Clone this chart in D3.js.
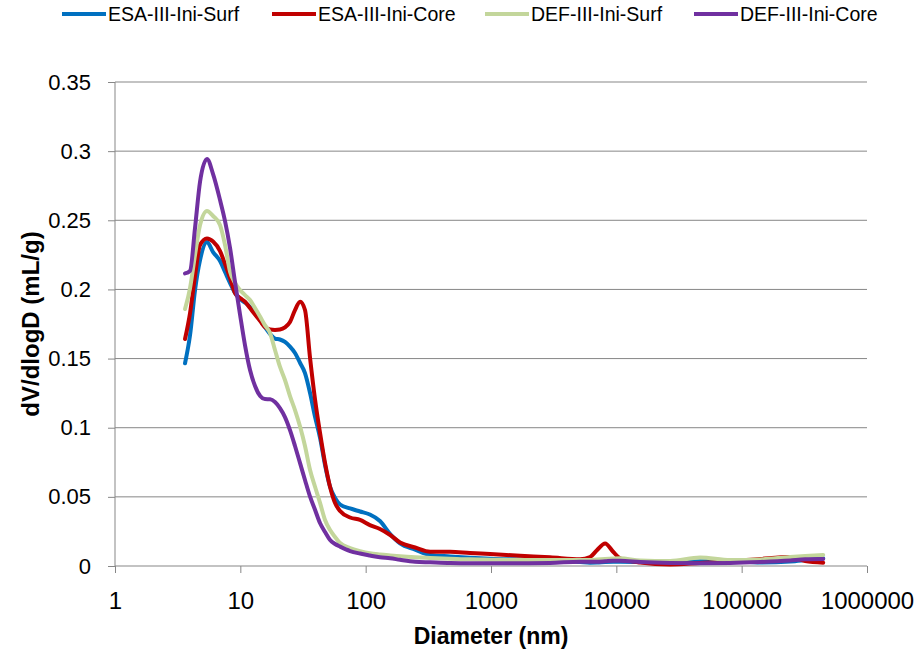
<!DOCTYPE html>
<html lang="en">
<head>
    <meta charset="UTF-8">
    <title>Pore size distribution</title>
    <style>
        body {
            margin: 0;
            padding: 0;
            background-color: #ffffff;
            font-family: 'Liberation Sans', Arial, sans-serif;
        }
        .grid line {
            stroke: #878787;
            stroke-width: 1px;
        }
        .axis path, .axis line {
            stroke: #878787;
            stroke-width: 1px;
        }
        .axis text {
            fill: #000000;
            font-family: 'Liberation Sans', Arial, sans-serif;
        }
        .series {
            fill: none;
            stroke-width: 4px;
            stroke-linejoin: round;
            stroke-linecap: round;
        }
        .legend text {
            font-size: 19.5px;
            fill: #000000;
        }
        .title {
            font-weight: bold;
            fill: #000000;
        }
    </style>
</head>
<body>
    <div id="chart"></div>

    <script src="https://d3js.org/d3.v7.min.js"></script>
    <script>
        const width = 918;
        const height = 655;

        // pore diameter (nm), shared by all four samples
        const diameters = [3.62, 3.97, 4.35, 4.77, 5.42, 6.06, 6.89, 7.55, 8.28, 9.07,
            9.95, 10.9, 11.95, 13.1, 14.4, 15.7, 17.3, 18.9, 20.7, 22.7,
            24.9, 27.3, 30.0, 32.8, 36.0, 39.5, 43.3, 47.4, 52.0, 57.0,
            62.5, 75.1, 90.2, 108, 130, 157, 188, 248, 327, 472,
            681, 984, 1710, 2960, 5140, 6180, 7030, 8140, 9430, 10700,
            15500, 26900, 46600, 81000, 140500, 243800, 321300, 447200];

        // dV/dlogD (mL/g)
        const esaSurf = [0.1466, 0.1670, 0.1995, 0.2212, 0.2343, 0.2270, 0.2205, 0.2126, 0.2046, 0.1974,
            0.1930, 0.1905, 0.1873, 0.1826, 0.1779, 0.1728, 0.1677, 0.1645, 0.1638, 0.1620,
            0.1586, 0.1540, 0.1468, 0.1395, 0.1251, 0.1077, 0.0925, 0.0730, 0.0573, 0.0492,
            0.0445, 0.0416, 0.0394, 0.0372, 0.0325, 0.0231, 0.0164, 0.0119, 0.0080, 0.0069,
            0.0060, 0.0053, 0.0047, 0.0042, 0.0029, 0.0024, 0.0025, 0.0029, 0.0031, 0.0031,
            0.0029, 0.0024, 0.0035, 0.0036, 0.0025, 0.0033, 0.0043, 0.0056];

        const esaCore = [0.1641, 0.1829, 0.2097, 0.2321, 0.2368, 0.2346, 0.2277, 0.2183, 0.2082, 0.1974,
            0.1938, 0.1911, 0.1865, 0.1818, 0.1771, 0.1728, 0.1710, 0.1707, 0.1710, 0.1725,
            0.1764, 0.1851, 0.1911, 0.1851, 0.1504, 0.1200, 0.0959, 0.0745, 0.0571, 0.0455,
            0.0398, 0.0351, 0.0333, 0.0296, 0.0268, 0.0224, 0.0170, 0.0134, 0.0103, 0.0103,
            0.0094, 0.0087, 0.0074, 0.0063, 0.0048, 0.0065, 0.0116, 0.0163, 0.0103, 0.0056,
            0.0025, 0.0011, 0.0022, 0.0033, 0.0051, 0.0065, 0.0036, 0.0024];

        const defSurf = [0.1858, 0.2010, 0.2249, 0.2465, 0.2567, 0.2531, 0.2465, 0.2321, 0.2128, 0.2046,
            0.1995, 0.1959, 0.1923, 0.1865, 0.1802, 0.1742, 0.1682, 0.1562, 0.1441, 0.1345,
            0.1229, 0.1128, 0.1007, 0.0868, 0.0694, 0.0571, 0.0455, 0.0333, 0.0260, 0.0210,
            0.0166, 0.0130, 0.0108, 0.0092, 0.0083, 0.0076, 0.0070, 0.0063, 0.0058, 0.0053,
            0.0048, 0.0046, 0.0043, 0.0043, 0.0043, 0.0043, 0.0047, 0.0051, 0.0054, 0.0056,
            0.0040, 0.0036, 0.0061, 0.0043, 0.0047, 0.0065, 0.0072, 0.0080];

        const defCore = [0.2116, 0.2135, 0.2444, 0.2779, 0.2943, 0.2834, 0.2646, 0.2494, 0.2299, 0.2053,
            0.1817, 0.1596, 0.1417, 0.1301, 0.1229, 0.1207, 0.1206, 0.1186, 0.1142, 0.1077,
            0.0983, 0.0868, 0.0742, 0.0622, 0.0501, 0.0405, 0.0309, 0.0246, 0.0188, 0.0159,
            0.0140, 0.0108, 0.0090, 0.0076, 0.0063, 0.0056, 0.0045, 0.0031, 0.0027, 0.0022,
            0.0020, 0.0020, 0.0020, 0.0022, 0.0031, 0.0031, 0.0031, 0.0034, 0.0038, 0.0038,
            0.0029, 0.0022, 0.0020, 0.0022, 0.0029, 0.0040, 0.0048, 0.0050];

        const seriesNames = ['ESA-III-Ini-Surf', 'ESA-III-Ini-Core', 'DEF-III-Ini-Surf', 'DEF-III-Ini-Core'];
        const seriesColors = ['#0070c0', '#c00000', '#c3d69b', '#7030a0'];
        const seriesValues = [esaSurf, esaCore, defSurf, defCore];

        const xTicks = [1, 10, 100, 1000, 10000, 100000, 1000000];
        const yTicks = [0, 0.05, 0.1, 0.15, 0.2, 0.25, 0.3, 0.35];

        const margin = { top: 82, right: 51, bottom: 89, left: 115 };
        const plotW = width - margin.left - margin.right;
        const plotH = height - margin.top - margin.bottom;

        const svg = d3.select('#chart')
            .append('svg')
            .attr('width', width)
            .attr('height', height);

        const x = d3.scaleLog().domain([1, 1000000]).range([margin.left, margin.left + plotW]);
        const y = d3.scaleLinear().domain([0, 0.35]).range([margin.top + plotH, margin.top]);

        // horizontal gridlines
        svg.append('g')
            .attr('class', 'grid')
            .selectAll('line')
            .data(yTicks.slice(1))
            .enter().append('line')
            .attr('x1', x(1))
            .attr('x2', x(1000000))
            .attr('y1', d => y(d))
            .attr('y2', d => y(d));

        // axes
        const yAxis = svg.append('g')
            .attr('class', 'axis')
            .attr('transform', `translate(${margin.left},0)`)
            .call(d3.axisLeft(y)
                .tickValues(yTicks)
                .tickSize(7)
                .tickPadding(17)
                .tickFormat(d => String(+d.toFixed(2))));
        yAxis.selectAll('text').style('font-size', '22px');
        yAxis.select('.domain').attr('d', `M0,${y(0.35)}V${y(0)}`);

        const xAxis = svg.append('g')
            .attr('class', 'axis')
            .attr('transform', `translate(0,${y(0)})`)
            .call(d3.axisBottom(x)
                .tickValues(xTicks)
                .tickSize(7)
                .tickPadding(19)
                .tickFormat(d3.format('d')));
        xAxis.selectAll('text').style('font-size', '24px');
        xAxis.select('.domain').attr('d', `M${x(1)},0H${x(1000000)}`);

        // curves
        const line = d3.line()
            .x(d => x(d[0]))
            .y(d => y(d[1]))
            .curve(d3.curveMonotoneX);

        svg.append('g')
            .selectAll('path')
            .data(seriesValues)
            .enter().append('path')
            .attr('class', 'series')
            .attr('stroke', (d, i) => seriesColors[i])
            .attr('d', vals => line(vals.map((v, i) => [diameters[i], v])));

        // legend
        const legendX = [62, 272, 485, 694];
        const legend = svg.append('g').attr('class', 'legend');
        seriesNames.forEach((name, i) => {
            const g = legend.append('g').attr('transform', `translate(${legendX[i]},14)`);
            g.append('line')
                .attr('x1', 0).attr('x2', 44)
                .attr('y1', 0).attr('y2', 0)
                .attr('stroke', seriesColors[i])
                .attr('stroke-width', 4);
            g.append('text')
                .attr('x', 46)
                .attr('dy', '0.36em')
                .text(name);
        });

        // axis titles
        svg.append('text')
            .attr('class', 'title')
            .attr('x', (x(1) + x(1000000)) / 2)
            .attr('y', 644)
            .attr('text-anchor', 'middle')
            .style('font-size', '23px')
            .text('Diameter (nm)');

        svg.append('text')
            .attr('class', 'title')
            .attr('transform', `translate(39,${(y(0) + y(0.35)) / 2}) rotate(-90)`)
            .attr('text-anchor', 'middle')
            .style('font-size', '24px')
            .text('dV/dlogD (mL/g)');
    </script>
</body>
</html>
